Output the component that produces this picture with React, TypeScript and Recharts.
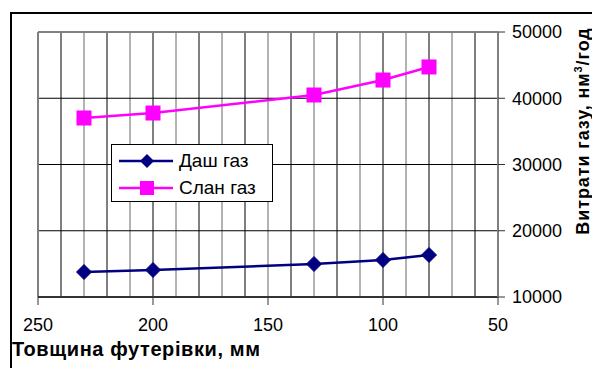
import { LineChart, Line, XAxis, YAxis, ReferenceLine } from "recharts";

// товщина футерівки, мм
const thickness = [230, 200, 130, 100, 80];
const dashGas = [13770, 14080, 14980, 15590, 16340];
const slanGas = [37020, 37770, 40490, 42750, 44720];

const xTicks = [250, 200, 150, 100, 50];
const yTicks = [10000, 20000, 30000, 40000, 50000];
const xGrid = [60, 70, 80, 90, 100, 110, 120, 130, 140, 150, 160, 170, 180, 190, 200, 210, 220, 230, 240];
const yGrid = [20000, 30000, 40000];

const data = thickness.map((t, i) => ({ t, dash: dashGas[i], slan: slanGas[i] }));

const NAVY = "#000080";
const MAGENTA = "#FF00FF";
const FONT = "Arial, 'Liberation Sans', sans-serif";

const Diamond = (props: any) => {
  const { cx, cy } = props;
  if (cx == null || cy == null) return null;
  return <path d={`M${cx},${cy - 7.5}L${cx + 7.5},${cy}L${cx},${cy + 7.5}L${cx - 7.5},${cy}Z`} fill={NAVY} stroke={NAVY} />;
};

const Square = (props: any) => {
  const { cx, cy } = props;
  if (cx == null || cy == null) return null;
  return <rect x={cx - 7} y={cy - 7} width={14} height={14} fill={MAGENTA} stroke={MAGENTA} />;
};

function LegendBox() {
  const row = (color: string, label: string, square: boolean) => (
    <div style={{ display: "flex", alignItems: "center", height: 27 }}>
      <svg width={58} height={20} style={{ marginRight: 4 }}>
        <line x1={2} y1={10} x2={56} y2={10} stroke={color} strokeWidth={2.5} />
        {square ? (
          <rect x={23} y={3} width={14} height={14} fill={color} />
        ) : (
          <path d="M30,3L37,10L30,17L23,10Z" fill={color} />
        )}
      </svg>
      <span>{label}</span>
    </div>
  );
  return (
    <div
      style={{
        position: "absolute",
        left: 111,
        top: 144,
        width: 162,
        height: 58,
        border: "1.5px solid #000",
        background: "#fff",
        fontFamily: FONT,
        fontSize: 19,
        paddingTop: 2,
        paddingLeft: 5,
        boxSizing: "border-box",
      }}
    >
      {row(NAVY, "Даш газ", false)}
      {row(MAGENTA, "Слан газ", true)}
    </div>
  );
}

export default function App() {
  return (
    <div
      style={{
        position: "absolute",
        left: 0,
        top: 0,
        width: 592,
        height: 368,
        overflow: "hidden",
        background: "#fff",
        fontFamily: FONT,
      }}
    >
      <div
        style={{
          position: "absolute",
          left: 10,
          top: 12,
          width: 640,
          height: 420,
          border: "2px solid #000",
        }}
      />
      <div style={{ position: "absolute", left: 0, top: 0 }}>
        <LineChart width={592} height={368} data={data} margin={{ top: 32, right: 0, left: 38, bottom: 0 }}>
          <XAxis
            dataKey="t"
            type="number"
            domain={[50, 250]}
            reversed
            ticks={xTicks}
            interval={0}
            height={71}
            axisLine={{ stroke: "#333", strokeWidth: 2 }}
            tickLine={{ stroke: "#333" }}
            tickSize={8}
            tick={{ fill: "#000", fontSize: 18, fontFamily: FONT }}
            tickMargin={13}
          />
          <YAxis
            orientation="right"
            type="number"
            domain={[10000, 50000]}
            ticks={yTicks}
            interval={0}
            width={94}
            axisLine={{ stroke: "#808080", strokeWidth: 2 }}
            tickLine={{ stroke: "#333" }}
            tickSize={7}
            tick={{ fill: "#000", fontSize: 18, fontFamily: FONT }}
            tickMargin={7}
          />
          {xGrid.map((v) => (
            <ReferenceLine key={`x${v}`} x={v} stroke={v % 20 === 0 ? "#000" : "#666"} strokeWidth={1} />
          ))}
          {yGrid.map((v) => (
            <ReferenceLine key={`y${v}`} y={v} stroke="#000" strokeWidth={1} />
          ))}
          <ReferenceLine y={50000} stroke="#808080" strokeWidth={2} />
          <ReferenceLine x={250} stroke="#808080" strokeWidth={2} />
          <Line
            dataKey="dash"
            stroke={NAVY}
            strokeWidth={2.5}
            dot={<Diamond />}
            isAnimationActive={false}
          />
          <Line
            dataKey="slan"
            stroke={MAGENTA}
            strokeWidth={2.5}
            dot={<Square />}
            isAnimationActive={false}
          />
        </LineChart>
      </div>
      <LegendBox />
      <div
        style={{
          position: "absolute",
          left: 12,
          top: 338,
          fontSize: 20,
          letterSpacing: 0.6,
          fontWeight: "bold",
          whiteSpace: "nowrap",
        }}
      >
        Товщина футерівки, мм
      </div>
      <div
        style={{
          position: "absolute",
          left: 583,
          top: 131,
          transform: "translate(-50%, -50%) rotate(-90deg)",
          fontSize: 18,
          letterSpacing: 0.9,
          fontWeight: "bold",
          whiteSpace: "nowrap",
        }}
      >
        Витрати газу, нм<sup style={{ fontSize: 11 }}>3</sup>/год
      </div>
    </div>
  );
}
